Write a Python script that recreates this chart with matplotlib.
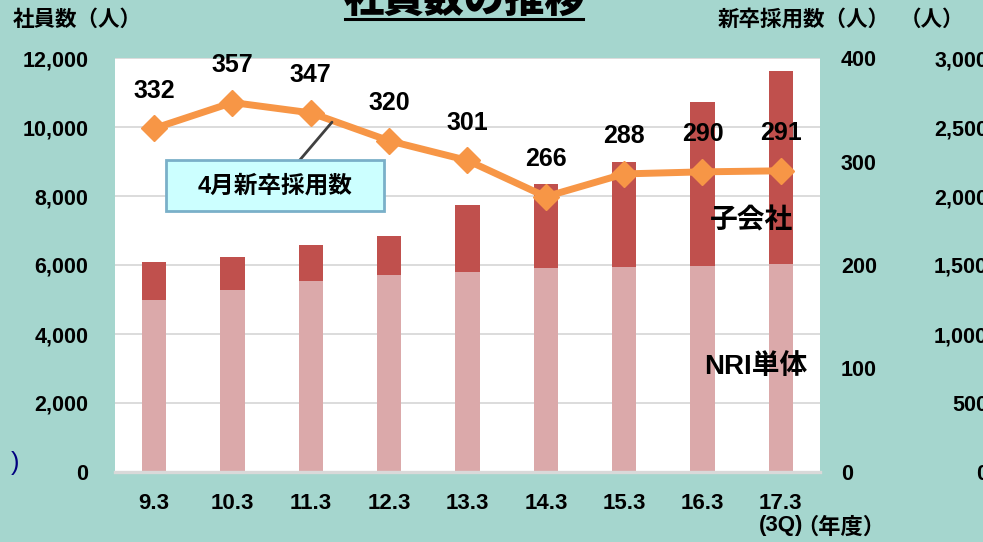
import numpy as np
import matplotlib.pyplot as plt
from matplotlib.patches import Rectangle
from matplotlib.lines import Line2D

plt.rcParams['font.family'] = ['Liberation Sans', 'Noto Sans CJK JP']
plt.rcParams['font.weight'] = 'bold'

# data
years = ['9.3', '10.3', '11.3', '12.3', '13.3', '14.3', '15.3', '16.3', '17.3\n(3Q)']
nri = [5000, 5270, 5540, 5710, 5800, 5910, 5940, 5970, 6030]        # NRI単体
sub = [1090, 950, 1040, 1130, 1930, 2430, 3060, 4760, 5590]         # 子会社
hires = [332, 357, 347, 320, 301, 266, 288, 290, 291]               # 4月新卒採用数

left_ticks = [0, 2000, 4000, 6000, 8000, 10000, 12000]
left_labels = ['0', '2,000', '4,000', '6,000', '8,000', '10,000', '12,000']
right_ticks = [0, 100, 200, 300, 400]
third_ticks = [0, 500, 1000, 1500, 2000, 2500, 3000]
third_labels = ['0', '500', '1,000', '1,500', '2,000', '2,500', '3,000']

W, H = 983, 542
def fx(x):
    return x / W
def fy(y):
    return 1 - y / H

bg = '#a5d6ce'
fig = plt.figure(figsize=(9.83, 5.42), dpi=100, facecolor=bg)
ax = fig.add_axes([fx(115), fy(472), fx(820) - fx(115), fy(58) - fy(472)])
ax.set_facecolor('white')

x = np.arange(len(years))
ax.bar(x, nri, 0.31, color='#dba9aa', zorder=2)
ax.bar(x, sub, 0.31, bottom=nri, color='#c0504d', zorder=2)
ax.set_xlim(-0.5, len(years) - 0.5)
ax.set_ylim(0, 12000)
ax.set_yticks(left_ticks)
ax.set_yticklabels(left_labels)
ax.set_xticks(x)
ax.set_xticklabels(years, linespacing=1.1)
ax.yaxis.grid(True, color='#d9d9d9', lw=1.3)
ax.set_axisbelow(True)
for s in ['top', 'left', 'right']:
    ax.spines[s].set_visible(False)
ax.spines['bottom'].set_color('#d9d9d9')
ax.spines['bottom'].set_linewidth(2.4)
ax.tick_params(axis='y', length=0, pad=19, labelsize=15.5)
ax.tick_params(axis='x', length=0, pad=15, labelsize=16)

# new graduate hires
ax2 = ax.twinx()
ax2.plot(x, hires, color='#f79646', lw=5, marker='D', ms=13, zorder=3)
ax2.set_ylim(0, 400)
ax2.set_yticks(right_ticks)
ax2.tick_params(axis='y', length=0, pad=15, labelsize=15.5)
for s in ax2.spines.values():
    s.set_visible(False)
for xi, v in zip(x, hires):
    ax2.annotate(str(v), (xi, v), xytext=(0, 27), textcoords='offset points',
                 ha='center', va='center', fontsize=18)

# third axis (cut at right edge)
ax3 = ax.twinx()
ax3.set_ylim(0, 3000)
ax3.set_yticks(third_ticks)
ax3.set_yticklabels(third_labels, ha='right')
ax3.tick_params(axis='y', length=0, pad=121, labelsize=15.5)
for s in ax3.spines.values():
    s.set_visible(False)

# callout
fig.add_artist(Rectangle((fx(166), fy(211)), fx(384) - fx(166), fy(160) - fy(211),
                         transform=fig.transFigure, facecolor='#ccffff',
                         edgecolor='#7ab0c9', lw=2, zorder=5))
fig.text(fx(275), fy(186), '4月新卒採用数', ha='center', va='center', fontsize=17, zorder=6)
ax2.annotate('', xy=(2.27, 338), xycoords='data', xytext=(fx(299), fy(161)),
             textcoords='figure fraction',
             arrowprops=dict(arrowstyle='-', color='#404040', lw=2, shrinkA=0, shrinkB=0))

fig.text(fx(752), fy(221), '子会社', ha='center', va='center', fontsize=20)
fig.text(fx(756), fy(367), 'NRI単体', ha='center', va='center', fontsize=20)

# titles / axis labels
fig.text(fx(464), fy(13), '社員数の推移', ha='center', va='baseline', fontsize=29, fontweight='heavy')
fig.add_artist(Line2D([fx(345), fx(583)], [fy(19), fy(19)], color='black', lw=2.2))
fig.text(fx(13), fy(20), '社員数（人）', ha='left', va='center', fontsize=15.5)
fig.text(fx(718), fy(20), '新卒採用数（人）', ha='left', va='center', fontsize=15.5)
fig.text(fx(900), fy(20), '（人）', ha='left', va='center', fontsize=15.5)
fig.text(fx(796), fy(528), '（年度）', ha='left', va='center', fontsize=16)
fig.text(fx(19), fy(463), ')', ha='right', va='center', fontsize=18,
         fontweight='normal', color='#00007f')

fig.savefig('out.png', dpi=100, facecolor=bg)
